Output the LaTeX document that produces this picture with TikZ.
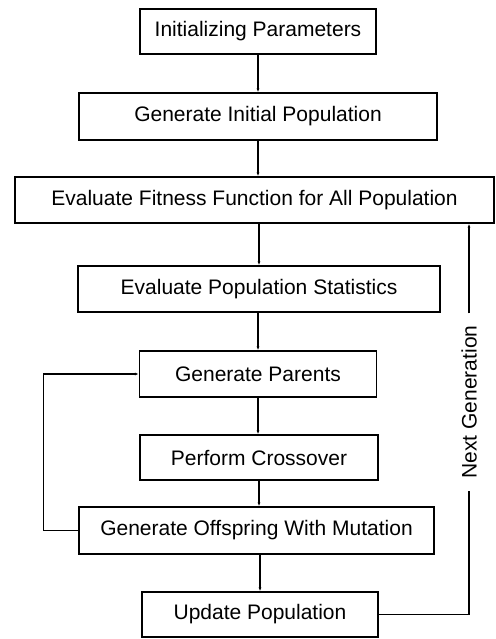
\documentclass[tikz,border=0pt]{standalone}
\usepackage{fontspec}
\setmainfont{Liberation Sans}
\usetikzlibrary{arrows.meta, positioning}

\begin{document}
\begin{tikzpicture}[x=1pt, y=-1pt,
		blk/.style={draw, line width=1.4pt, minimum height=46pt, inner sep=0pt,
			font=\fontsize{21}{25}\selectfont},
		flow/.style={line width=1.1pt, -{Latex[length=4pt,width=3pt]}},
		link/.style={line width=1.1pt}]
	% Axis of the chart
	\def\ax{258}
	\useasboundingbox (0,0) rectangle (495,639);
	
	% Steps
	\node[blk, minimum width=236pt, minimum height=45pt] (init) at (\ax,31.5) {Initializing Parameters};
	\node[blk, minimum width=358pt, minimum height=47pt] (genpop) at (\ax,116.5) {Generate Initial Population};
	\node[blk, minimum width=479pt] (fit) at (254.5,200) {Evaluate Fitness Function for All Population};
	\node[blk, minimum width=362pt] (stats) at (259,289) {Evaluate Population Statistics};
	\node[blk, minimum width=237pt] (par) at (\ax,374) {Generate Parents};
	\node[blk, minimum width=238pt, minimum height=45pt] (cross) at (259,457.5) {Perform Crossover};
	\node[blk, minimum width=355pt, minimum height=47pt] (off) at (256.5,530.5) {Generate Offspring With Mutation};
	\node[blk, minimum width=236pt, minimum height=45pt] (upd) at (260,614.5) {Update Population};
	
	% Next generation label
	\node[rotate=90, inner sep=12pt, font=\fontsize{21}{25}\selectfont] (nxt) at (469,402) {Next Generation};
	
	% Main flow
	\draw[flow] (init) -- (genpop);
	\draw[flow] (genpop.south) -- (genpop.south |- fit.north);
	\draw[flow] (stats.north |- fit.south) -- (stats.north);
	\draw[flow] (stats.south -| par.north) -- (par.north);
	\draw[flow] (par.south) -- (par.south |- cross.north);
	\draw[flow] (cross.south) -- (cross.south |- off.north);
	\draw[flow] (off.south -| upd.north) -- (upd.north);
	
	% Loops
	\draw[flow] (off.west) -- ++(-35,0) |- (par.west);
	\draw[link] (upd.east) -| (nxt.west);
	\draw[flow] (nxt.east) -- (nxt.east |- fit.south);
\end{tikzpicture}
\end{document}
